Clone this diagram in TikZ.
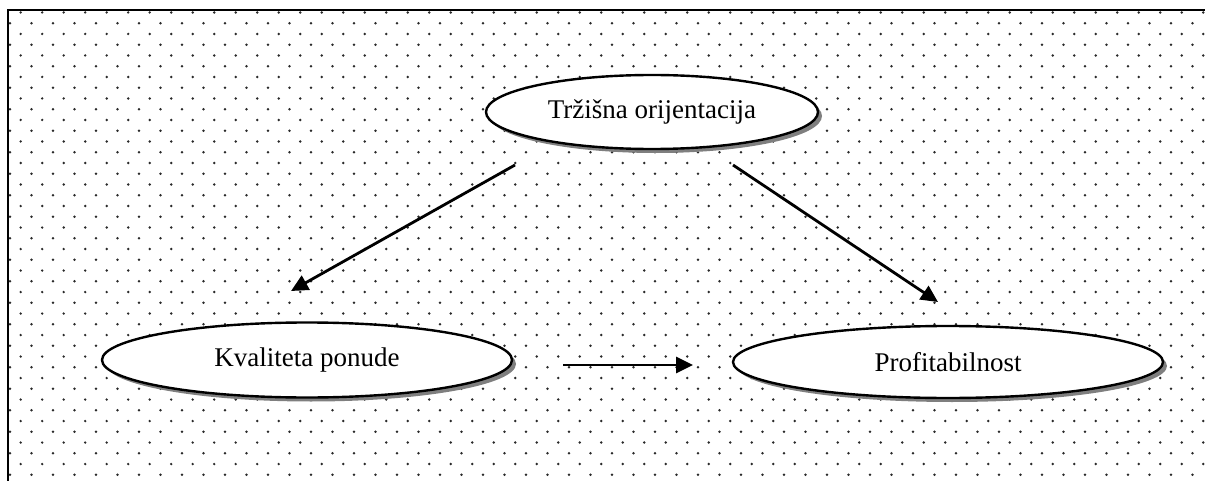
\documentclass[tikz,border=0pt]{standalone}
\usepackage{fontspec}
\setmainfont{Liberation Serif}
\usetikzlibrary{arrows.meta, shapes.geometric, shadows}
\definecolor{dot-grey}{HTML}{2A2A2A}
\definecolor{shade-grey}{HTML}{7F7F7F}

\begin{document}
\begin{tikzpicture}[x=0.5pt, y=-0.5pt,
    oval/.style={draw, ellipse, fill=white, line width=1.2pt, inner sep=0pt,
      font=\fontsize{13.5}{16}\selectfont,
      drop shadow={shadow xshift=2pt, shadow yshift=-2pt, fill=shade-grey, opacity=1}},
    link/.style={-{Triangle[length=8.5pt, width=8pt]}, line width=1.4pt}]
    \useasboundingbox (0,0) rectangle (1205,481);
    % dotted background
    \begin{scope}
      \clip (8,10) rectangle (1205,481);
      \foreach \r in {0,...,44} {
        \pgfmathsetmacro{\yy}{12.5+10.75*\r}
        \pgfmathsetmacro{\xo}{mod(\r,2)==0 ? 20.7 : 10.0}
        \foreach \c in {0,...,56}
          \fill[dot-grey] (\xo+21.5*\c,\yy) circle (0.65pt);
      }
    \end{scope}
    % frame (left and top only)
    \draw[line width=1.1pt] (8,481) -- (8,10) -- (1205,10);

    \node[oval, minimum width=166pt, minimum height=37pt] (orient) at (652,112) {Tržišna orijentacija};
    \node[oval, minimum width=205pt, minimum height=37.5pt] (kval) at (307,360) {Kvaliteta ponude};
    \node[oval, minimum width=215pt, minimum height=36pt] (profit) at (948,362) {Profitabilnost};

    \coordinate (a1s) at (515,165);
    \coordinate (a1e) at (291,291);
    \coordinate (a2s) at (733,165);
    \coordinate (a2e) at (938,302);
    \coordinate (a3s) at (563,365);
    \coordinate (a3e) at (693,365);
    \draw[link] (a1s) -- (a1e);
    \draw[link] (a2s) -- (a2e);
    \draw[link] (a3s) -- (a3e);
\end{tikzpicture}
\end{document}
